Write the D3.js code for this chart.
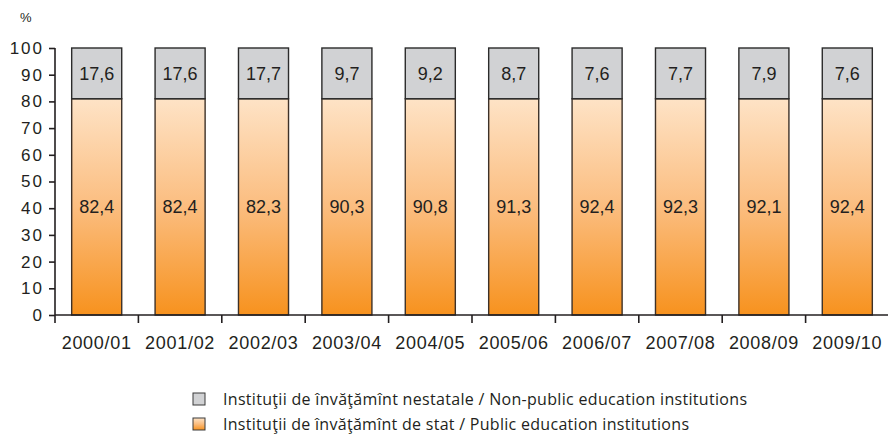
<!DOCTYPE html>
<html>
<head>
<meta charset="utf-8">
<script src="https://cdn.jsdelivr.net/npm/d3@7"></script>
<style>
  body { margin: 0; background: #fff; }
  text { fill: #231f20; }
</style>
</head>
<body>
<div id="main"></div>
<script>
// school years, shares of pupils (%) as printed on the bars
var years = ['2000/01', '2001/02', '2002/03', '2003/04', '2004/05',
             '2005/06', '2006/07', '2007/08', '2008/09', '2009/10'];
var nonPublic = [17.6, 17.6, 17.7, 9.7, 9.2, 8.7, 7.6, 7.7, 7.9, 7.6];
var publicSt = [82.4, 82.4, 82.3, 90.3, 90.8, 91.3, 92.4, 92.3, 92.1, 92.4];
// where the source picture actually splits each bar (same for every bar)
var drawnSplit = [81, 81, 81, 81, 81, 81, 81, 81, 81, 81];
var yTicks = [0, 10, 20, 30, 40, 50, 60, 70, 80, 90, 100];
var legendLabels = [
  'Instituţii de învăţămînt nestatale / Non-public education institutions',
  'Instituţii de învăţămînt de stat / Public education institutions'
];

var width = 890, height = 434;
var fmt = function(v) { return d3.format('.1f')(v).replace('.', ','); };

var svg = d3.select('#main').append('svg')
  .attr('width', width)
  .attr('height', height);

var defs = svg.append('defs');
var grad = defs.append('linearGradient')
  .attr('id', 'orangeGrad')
  .attr('x1', 0).attr('y1', 0).attr('x2', 0).attr('y2', 1);
grad.append('stop').attr('offset', '0%').attr('stop-color', '#fee3c6');
grad.append('stop').attr('offset', '50%').attr('stop-color', '#fbbd7f');
grad.append('stop').attr('offset', '100%').attr('stop-color', '#f7921e');

var x = d3.scaleBand()
  .domain(years)
  .range([55, 889])
  .paddingInner(0.4)
  .paddingOuter(0.2);

var y = d3.scaleLinear()
  .domain([0, 100])
  .range([315, 48]);

// bars: public (bottom) and non-public (top)
var g = svg.append('g');
years.forEach(function(yr, i) {
  var split = drawnSplit[i];
  g.append('rect')
    .attr('x', x(yr))
    .attr('y', y(split))
    .attr('width', x.bandwidth())
    .attr('height', y(0) - y(split))
    .attr('fill', 'url(#orangeGrad)')
    .attr('stroke', '#3d3128')
    .attr('stroke-width', 1.4);
  g.append('rect')
    .attr('x', x(yr))
    .attr('y', y(100))
    .attr('width', x.bandwidth())
    .attr('height', y(split) - y(100))
    .attr('fill', '#d1d2d4')
    .attr('stroke', '#2b2b2b')
    .attr('stroke-width', 1.4);

  var cx = x(yr) + x.bandwidth() / 2;
  g.append('text')
    .attr('x', cx)
    .attr('y', (y(100) + y(split)) / 2)
    .attr('dy', '0.36em')
    .attr('text-anchor', 'middle')
    .style('font', '18px "Liberation Sans", Arial, sans-serif')
    .text(fmt(nonPublic[i]));
  g.append('text')
    .attr('x', cx)
    .attr('y', (y(split) + y(0)) / 2)
    .attr('dy', '0.36em')
    .attr('text-anchor', 'middle')
    .style('font', '18px "Liberation Sans", Arial, sans-serif')
    .text(fmt(publicSt[i]));
});

// y axis
var yAxis = svg.append('g')
  .attr('transform', 'translate(55,0)')
  .call(d3.axisLeft(y).tickValues(yTicks).tickSize(6).tickPadding(5));
yAxis.select('.domain').attr('stroke', '#231f20').attr('stroke-width', 1.6)
  .attr('d', 'M0,' + y(100) + 'V' + y(0));
yAxis.selectAll('.tick line').attr('stroke', '#231f20').attr('stroke-width', 1.6);
yAxis.selectAll('.tick text')
  .style('font', '17px "Liberation Sans", Arial, sans-serif')
  .style('letter-spacing', '2px')
  .attr('fill', '#231f20');

svg.append('text')
  .attr('x', 20).attr('y', 22)
  .style('font', '13px "Liberation Sans", Arial, sans-serif')
  .text('%');

// x axis: baseline, ticks at category boundaries, labels centred
var step = x.step();
var x0 = x.range()[0];
svg.append('line')
  .attr('x1', x0).attr('x2', 888)
  .attr('y1', y(0)).attr('y2', y(0))
  .attr('stroke', '#231f20').attr('stroke-width', 1.6);
years.forEach(function(yr, i) {
  var tx = x0 + i * step;
  svg.append('line')
    .attr('x1', tx).attr('x2', tx)
    .attr('y1', y(0)).attr('y2', y(0) + 8)
    .attr('stroke', '#231f20').attr('stroke-width', 1.6);
  svg.append('text')
    .attr('x', x(yr) + x.bandwidth() / 2)
    .attr('y', 349)
    .attr('text-anchor', 'middle')
    .style('font', '18px "Liberation Sans", Arial, sans-serif')
    .style('letter-spacing', '0.7px')
    .text(yr);
});

// legend
var lg = svg.append('g');
var swatchFill = ['#d1d2d4', 'url(#orangeGrad)'];
var legendWidths = [524, 466];
legendLabels.forEach(function(lab, i) {
  var ly = 399 + i * 25;
  lg.append('rect')
    .attr('x', 193).attr('y', ly - 6)
    .attr('width', 12).attr('height', 12)
    .attr('fill', swatchFill[i])
    .attr('stroke', '#3a3a3a').attr('stroke-width', 1);
  lg.append('text')
    .attr('x', 223).attr('y', ly)
    .attr('dy', '0.35em')
    .attr('textLength', legendWidths[i])
    .attr('lengthAdjust', 'spacing')
    .style('font-family', '"Open Sans", sans-serif')
    .style('font-size', '16px')
    .text(lab);
});
</script>
</body>
</html>
